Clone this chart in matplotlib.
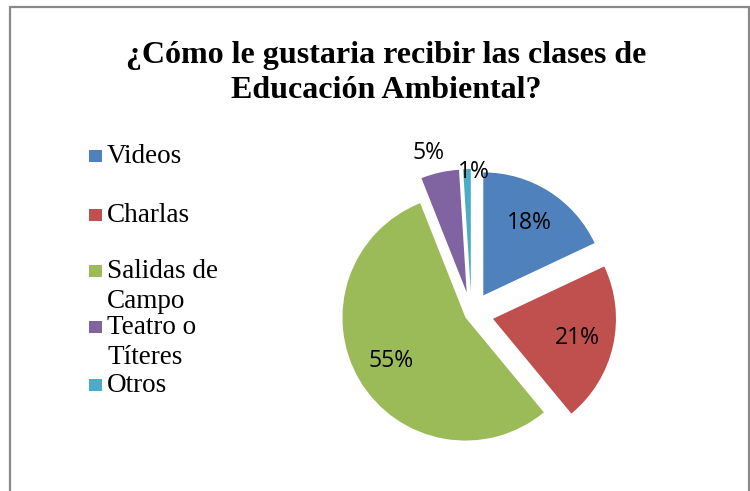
import numpy as np
import matplotlib
matplotlib.use('Agg')
import matplotlib.pyplot as plt
from matplotlib.patches import Rectangle

# data
categories = ['Videos', 'Charlas', 'Salidas de\nCampo', 'Teatro o\nTíteres', 'Otros']
values = [18, 21, 55, 5, 1]
colors = ['#4F81BD', '#C0504D', '#9BBB59', '#8064A2', '#4BACC6']
title = '¿Cómo le gustaria recibir las clases de\nEducación Ambiental?'

W, H = 750, 491
fig = plt.figure(figsize=(W / 100, H / 100), dpi=100)
ax = fig.add_axes([0, 0, 1, 1])

# outer chart frame (bottom edge runs off the picture)
ax.add_patch(Rectangle((9.5, -10), 739, H - 6.5 + 10, fill=False,
                       edgecolor='#898989', linewidth=1.6))

# pie, in pixel units
R = 123
center = (471.5, H - 314)
explode = [22, 22, 7, 22, 22]
wedges, texts, autotexts = ax.pie(
    values, colors=colors, explode=explode, radius=R, center=center,
    startangle=90, counterclock=False, autopct='%1.0f%%', pctdistance=0.7,
    textprops=dict(family='Open Sans', fontsize=16.5, color='black'),
    wedgeprops=dict(linewidth=0), frame=True)
ax.set_xlim(0, W)
ax.set_ylim(0, H)
ax.axis('off')

# small slices: labels pushed outside (Excel "best fit"), with a nudge in px
label_dist = [0.7, 0.7, 0.7, 1.17, 1.0]
label_nudge = [(0, 0), (0, 0), (0, 0), (-7, -1), (7, -3)]
for w, t, d, (dx, dy) in zip(wedges, autotexts, label_dist, label_nudge):
    th = np.deg2rad((w.theta1 + w.theta2) / 2)
    cx, cy = w.center
    t.set_position((cx + d * R * np.cos(th) + dx, cy + d * R * np.sin(th) + dy))

# legend, drawn by hand (Excel style, marker on first line)
leg_base = [163, 222, 278, 334, 392]   # baseline of first line, px from top
line_h = 30
for cat, col, yb in zip(categories, colors, leg_base):
    ax.add_patch(Rectangle((89, H - yb + 1), 12.5, 12.5, facecolor=col,
                           edgecolor='none'))
    for i, line in enumerate(cat.split('\n')):
        ax.text(107, H - yb - i * line_h, line, family='Liberation Serif',
                fontsize=19.5, ha='left', va='baseline')

# title, two centred lines
for i, line in enumerate(title.split('\n')):
    ax.text(386.5, H - 63 - i * 35, line, family='Liberation Serif',
            fontweight='bold', fontsize=23, ha='center', va='baseline')

fig.savefig('out.png', dpi=100)
